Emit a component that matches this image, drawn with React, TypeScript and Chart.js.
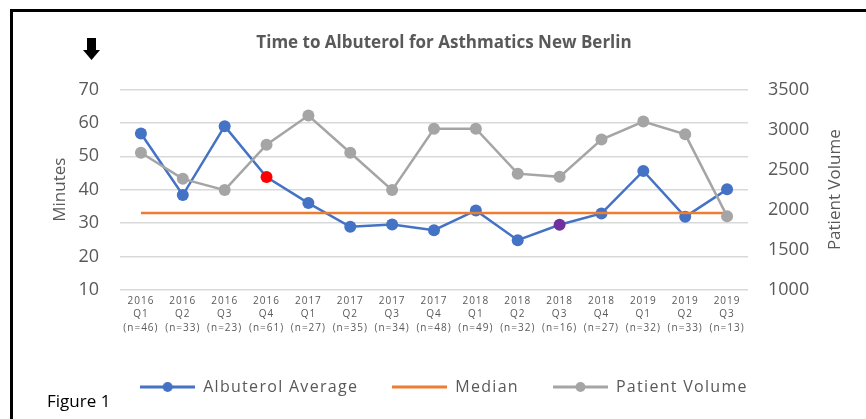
import React, { useEffect, useRef } from 'react';
import { Chart, registerables } from 'chart.js';

Chart.register(...registerables);

// ---------- data ----------
const years = ['2016', '2016', '2016', '2016', '2017', '2017', '2017', '2017', '2018', '2018', '2018', '2018', '2019', '2019', '2019'];
const quarters = ['Q1', 'Q2', 'Q3', 'Q4', 'Q1', 'Q2', 'Q3', 'Q4', 'Q1', 'Q2', 'Q3', 'Q4', 'Q1', 'Q2', 'Q3'];
const counts = [46, 33, 23, 61, 27, 35, 34, 48, 49, 32, 16, 27, 32, 33, 13];
const albuterolAverage = [56.8, 38.4, 59.0, 43.8, 36.0, 28.9, 29.6, 27.9, 33.8, 24.9, 29.5, 32.9, 45.6, 31.9, 40.1];
const medianMinutes = [33, 33, 33, 33, 33, 33, 33, 33, 33, 33, 33, 33, 33, 33, 33];
const patientVolume = [2710, 2385, 2245, 2810, 3175, 2710, 2245, 3010, 3010, 2450, 2410, 2875, 3100, 2940, 1920];
const minutesTicks = { min: 10, max: 70, step: 10 };
const volumeTicks = { min: 1000, max: 3500, step: 500 };

// ---------- styles ----------
const BLUE = '#4472C4';
const ORANGE = '#ED7D31';
const GREY = '#A5A5A5';
const TEXT = '#595959';
const FONT = '"Open Sans", "DejaVu Sans", sans-serif';
const highlighted: Record<number, string> = { 3: '#FF0000', 10: '#7030A0' };

function makeIcon(color: string, marker: boolean) {
  const c = document.createElement('canvas');
  c.width = 55;
  c.height = 14;
  const ctx = c.getContext('2d')!;
  ctx.strokeStyle = color;
  ctx.lineWidth = 3;
  ctx.beginPath();
  ctx.moveTo(0, 7);
  ctx.lineTo(55, 7);
  ctx.stroke();
  if (marker) {
    ctx.fillStyle = color;
    ctx.beginPath();
    ctx.arc(27.5, 7, 5, 0, Math.PI * 2);
    ctx.fill();
  }
  return c;
}

const decorPlugin = {
  id: 'decor',
  beforeLayout(chart: any) {
    const lg = chart.legend;
    if (lg && !lg.__wrapped) {
      lg.__wrapped = true;
      const origDraw = lg.draw.bind(lg);
      const origFit = lg.fit.bind(lg);
      lg.draw = (...a: any[]) => {
        const ctx = chart.ctx;
        ctx.letterSpacing = '1.3px';
        origDraw(...a);
        ctx.letterSpacing = '0px';
      };
      lg.fit = (...a: any[]) => {
        const ctx = chart.ctx;
        ctx.letterSpacing = '1.3px';
        origFit(...a);
        ctx.letterSpacing = '0px';
      };
    }
  },
  afterDatasetsDraw(chart: any) {
    chart.ctx.letterSpacing = '1px';
  },
  afterDraw(chart: any) {
    const ctx = chart.ctx;
    ctx.letterSpacing = '0px';
    ctx.save();
    ctx.fillStyle = '#000000';
    ctx.fillRect(10, 9, 856, 3);
    ctx.fillRect(10, 9, 3, 410);
    // down arrow
    ctx.beginPath();
    ctx.moveTo(87, 38);
    ctx.lineTo(96, 38);
    ctx.lineTo(96, 50);
    ctx.lineTo(100, 50);
    ctx.lineTo(91.5, 60);
    ctx.lineTo(83, 50);
    ctx.lineTo(87, 50);
    ctx.closePath();
    ctx.fill();
    // Figure 1
    ctx.font = `17px ${FONT}`;
    ctx.textAlign = 'left';
    ctx.textBaseline = 'middle';
    ctx.fillText('Figure 1', 47, 402);
    // right axis title (reads bottom to top)
    const ca = chart.chartArea;
    ctx.fillStyle = TEXT;
    ctx.font = `17px ${FONT}`;
    ctx.translate(835, (ca.top + ca.bottom) / 2);
    ctx.rotate(-Math.PI / 2);
    ctx.textAlign = 'center';
    ctx.fillText('Patient Volume', 0, 0);
    ctx.restore();
  },
};

export default function App() {
  const ref = useRef<HTMLCanvasElement | null>(null);

  useEffect(() => {
    if (!ref.current) return;
    const labels = years.map((y, i) => [y, quarters[i], `(n=${counts[i]})`]);
    const icons = [makeIcon(BLUE, true), makeIcon(ORANGE, false), makeIcon(GREY, true)];
    const blueFill = albuterolAverage.map((_, i) => highlighted[i] || BLUE);

    const chart = new Chart(ref.current, {
      type: 'line',
      data: {
        labels,
        datasets: [
          {
            label: 'Albuterol Average',
            data: albuterolAverage,
            yAxisID: 'y',
            borderColor: BLUE,
            backgroundColor: BLUE,
            borderWidth: 2.5,
            pointRadius: 6,
            pointBorderWidth: 0,
            pointBackgroundColor: blueFill,
            pointBorderColor: blueFill,
            order: 3,
          },
          {
            label: 'Median',
            data: medianMinutes,
            yAxisID: 'y',
            borderColor: ORANGE,
            backgroundColor: ORANGE,
            borderWidth: 2.5,
            pointRadius: 0,
            order: 2,
          },
          {
            label: 'Patient Volume',
            data: patientVolume,
            yAxisID: 'y1',
            borderColor: GREY,
            backgroundColor: GREY,
            borderWidth: 2.5,
            pointRadius: 6,
            pointBorderWidth: 0,
            pointBackgroundColor: GREY,
            order: 1,
          },
        ],
      },
      options: {
        animation: false,
        responsive: false,
        devicePixelRatio: 1,
        events: [],
        layout: { padding: { top: 20, left: 22, right: 0, bottom: 14 } },
        scales: {
          x: {
            offset: true,
            grid: { display: false, drawTicks: false },
            border: { display: false },
            ticks: {
              autoSkip: false,
              maxRotation: 0,
              minRotation: 0,
              padding: 4,
              color: TEXT,
              font: { family: FONT, size: 10, lineHeight: 1.35 },
              z: 1,
            },
            afterFit: (s: any) => { s.height = 55; },
          },
          y: {
            position: 'left',
            min: minutesTicks.min,
            max: minutesTicks.max,
            ticks: {
              stepSize: minutesTicks.step,
              padding: 21,
              color: TEXT,
              font: { family: FONT, size: 18 },
              callback: (v: any) => String(v),
            },
            grid: { color: '#D9D9D9', lineWidth: 1.5, drawTicks: false },
            border: { display: false },
            title: {
              display: true,
              text: 'Minutes',
              color: TEXT,
              font: { family: FONT, size: 17, lineHeight: 1.2 },
              padding: { top: 28, bottom: 0 },
            },
            afterFit: (s: any) => { s.width = 98; },
          },
          y1: {
            position: 'right',
            min: volumeTicks.min,
            max: volumeTicks.max,
            ticks: {
              stepSize: volumeTicks.step,
              padding: 20,
              color: TEXT,
              font: { family: FONT, size: 18 },
              callback: (v: any) => String(v),
            },
            grid: { display: false, drawTicks: false },
            border: { display: false },
            afterFit: (s: any) => { s.width = 118; },
          },
        },
        plugins: {
          title: {
            display: true,
            text: 'Time to Albuterol for Asthmatics New Berlin',
            color: TEXT,
            font: { family: FONT, size: 17, weight: 'bold', lineHeight: 1.2 },
            padding: { top: 13, bottom: 36 },
          },
          legend: {
            position: 'bottom',
            labels: {
              usePointStyle: true,
              pointStyleWidth: 55,
              padding: 34,
              color: TEXT,
              font: { family: FONT, size: 16 },
              generateLabels: (ch: any) =>
                ch.data.datasets.map((ds: any, i: number) => ({
                  text: ds.label,
                  fillStyle: ds.borderColor,
                  strokeStyle: ds.borderColor,
                  lineWidth: 0,
                  hidden: false,
                  datasetIndex: i,
                  pointStyle: icons[i],
                  fontColor: TEXT,
                })),
            },
          },
          tooltip: { enabled: false },
        },
      } as any,
      plugins: [decorPlugin as any],
    });
    return () => chart.destroy();
  }, []);

  return (
    <div style={{ position: 'fixed', left: 0, top: 0, width: 866, height: 419, background: '#ffffff' }}>
      <canvas ref={ref} width={866} height={419} style={{ width: 866, height: 419, display: 'block' }} />
    </div>
  );
}
